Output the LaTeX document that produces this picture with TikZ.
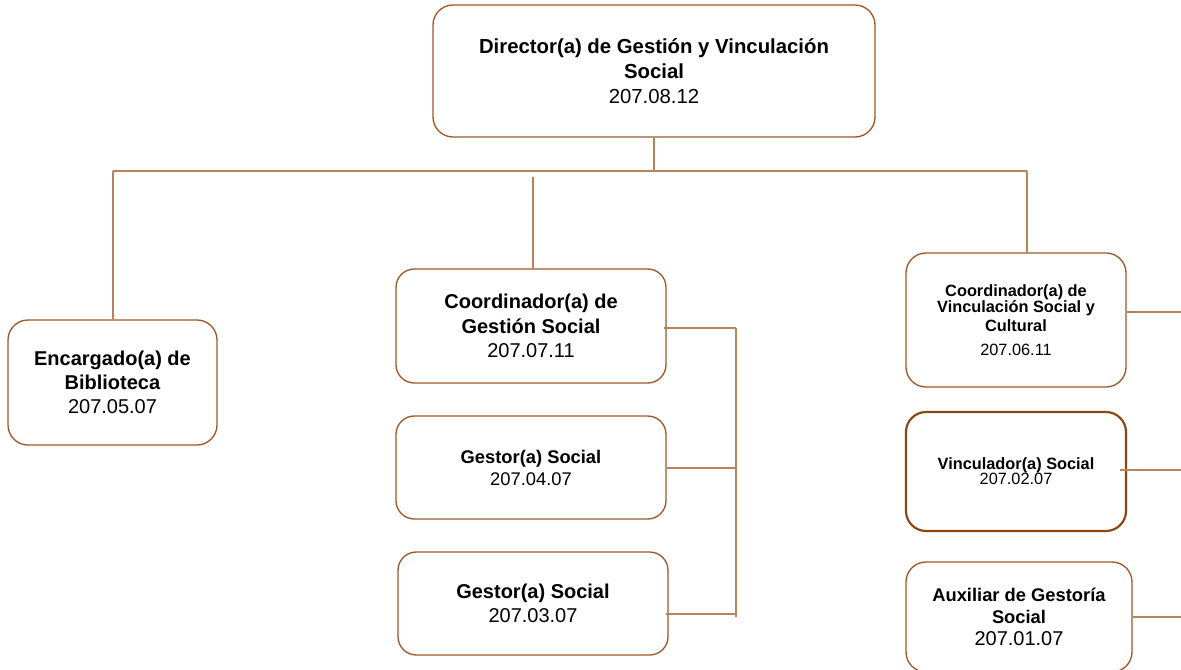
\documentclass[tikz,border=0pt]{standalone}
\usepackage{fontspec}
\setmainfont{Liberation Sans}
\definecolor{boxbrown}{HTML}{A0572B}
\definecolor{darkbrown}{HTML}{8B4513}
\definecolor{linkbrown}{HTML}{B8845E}
\tikzset{
  unit/.style={draw=boxbrown, line width=0.8pt, rounded corners=12pt, fill=white,
    align=center, inner sep=0pt, text=black},
  link/.style={draw=linkbrown, line width=0.65pt},
}
\newcommand{\fsz}[2]{\fontsize{#1}{#2}\selectfont}
\begin{document}
\begin{tikzpicture}[x=0.6pt,y=-0.6pt]
\path[use as bounding box] (0,0) rectangle (1181,670);
\clip (0,0) rectangle (1181,670);

% head of the department
\node[unit, font=\fsz{12.2}{15}, minimum width=265.2pt, minimum height=79.2pt] (top) at (654,71)
  {\textbf{Director(a) de Gestión y Vinculación}\\
   \textbf{Social}\\207.08.12};

% library
\node[unit, font=\fsz{12}{14.4}, minimum width=125.4pt, minimum height=75pt] (lib) at (112.5,382.5)
  {\textbf{Encargado(a) de}\\\textbf{Biblioteca}\\207.05.07};

% social management branch
\node[unit, font=\fsz{12}{14.7}, minimum width=162pt, minimum height=68.4pt, rounded corners=11pt] (m1) at (531,326)
  {\textbf{Coordinador(a) de}\\\textbf{Gestión Social}\\207.07.11};
\node[unit, font=\fsz{11}{13.2}, minimum width=162pt, minimum height=61.8pt, rounded corners=11pt] (m2) at (531,467.5)
  {\textbf{Gestor(a) Social}\\207.04.07};
\node[unit, font=\fsz{12}{14.4}, minimum width=162pt, minimum height=61.8pt, rounded corners=11pt] (m3) at (533,603.5)
  {\textbf{Gestor(a) Social}\\207.03.07};

% social and cultural outreach branch
\node[unit, font=\fsz{9.8}{9.6}, minimum width=132pt, minimum height=80.4pt] (r1) at (1016,320)
  {\textbf{Coordinador(a) de}\\[-0.2pt]\textbf{Vinculación Social y}\\[1.6pt]
   \textbf{Cultural}\\[4.8pt]207.06.11};
\node[unit, font=\fsz{9.8}{9}, draw=darkbrown, line width=1.3pt, minimum width=132pt, minimum height=71.4pt] (r2) at (1016,471.5)
  {\textbf{Vinculador(a) Social}\\207.02.07};
\node[unit, font=\fsz{11}{13.2}, minimum width=135.6pt, minimum height=66pt] (r3) at (1019,617)
  {\textbf{Auxiliar de Gestoría}\\\textbf{Social}\\{\fsz{12}{13.2}207.01.07}};

% main distribution bus
\coordinate (busL) at (113,171);
\coordinate (busR) at (1027,171);
\coordinate (midtop) at (533,177);
\draw[link] (top.south) -- (top.south |- busL);
\draw[link] (busL) -- (busR);
\draw[link] (busL) -- (busL |- lib.north);
\draw[link] (midtop) -- (midtop |- m1.north);
\draw[link] (busR) -- (busR |- r1.north);

% bracket joining the social management staff
\coordinate (brT) at (736,328);
\coordinate (brB) at (736,617);
\coordinate (br2) at (736,468);
\coordinate (br3) at (736,614);
\draw[link] ([xshift=-1.8pt]m1.east |- brT) -- (brT);
\draw[link] (m2.east |- br2) -- (br2);
\draw[link] ([xshift=-1.8pt]m3.east |- br3) -- (br3);
\draw[link] (brT) -- (brB);

% outreach staff leads off to the right
\coordinate (e1) at (1181,312);
\coordinate (e2) at (1181,470);
\coordinate (e3) at (1181,617);
\draw[link] (r1.east |- e1) -- (e1);
\draw[link] ([xshift=-4.2pt]r2.east |- e2) -- (e2);
\draw[link] (r3.east |- e3) -- (e3);
\end{tikzpicture}
\end{document}
